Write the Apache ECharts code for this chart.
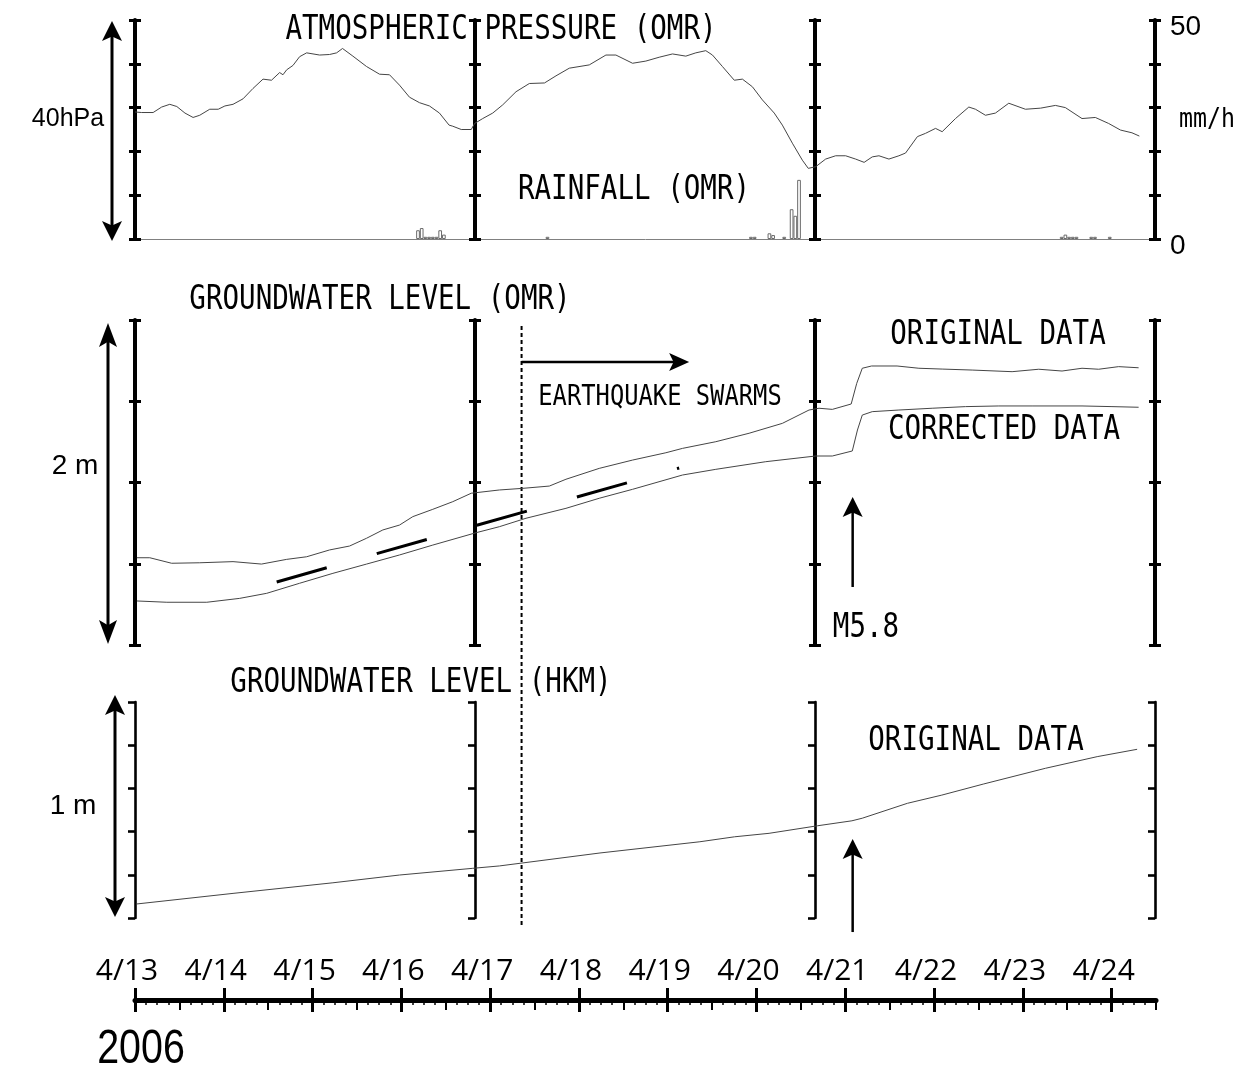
<!DOCTYPE html>
<html>
<head>
<meta charset="utf-8">
<script src="https://cdn.jsdelivr.net/npm/echarts@6/dist/echarts.min.js"></script>
<style>
  html, body { margin: 0; padding: 0; background: #fff; }
  #chart { width: 1242px; height: 1068px; }
</style>
</head>
<body>
<div id="chart"></div>
<script>
// all times are hours since 2006-04-13 00:00
const dayLabels = ["4/13", "4/14", "4/15", "4/16", "4/17", "4/18", "4/19", "4/20", "4/21", "4/22", "4/23", "4/24"];

// atmospheric pressure at OMR (hPa)
const pressureHour = [0, 1.8, 4.9, 7.2, 9.4, 11.3, 13.5, 15.7, 17.5, 20.2, 22.5, 24.3, 26.5, 29.2, 31.9, 34.6, 36.9, 39.1, 40.0, 41.0,
  42.7, 44.5, 46.4, 49.9, 52.6, 54.5, 56.1, 58.9, 62.6, 66.1, 68.8, 71.5, 74.2, 76.9, 79.6, 82.3, 84.9, 85.9, 88.2, 90.9,
  91.8, 94.0, 96.7, 99.4, 103.0, 106.6, 110.7, 113.8, 117.4, 122.8, 127.3, 130.0, 134.5, 138.1, 141.7, 145.3, 148.9, 151.6, 154.3, 156.1,
  158.8, 162.0, 164.2, 166.9, 169.6, 172.8, 175.0, 177.7, 180.4, 182.0, 184.0, 186.7, 189.4, 192.1, 194.8, 197.1, 199.3, 201.1, 203.8, 206.5,
  208.3, 211.5, 213.7, 216.4, 218.2, 221.8, 225.4, 227.2, 229.9, 232.6, 236.2, 240.7, 244.8, 248.8, 251.5, 256.0, 259.6, 263.2, 266.4, 269.5, 271.5];
const pressureHpa = [1015.2, 1015.1, 1015.1, 1016.1, 1016.6, 1016.2, 1015.0, 1014.2, 1014.6, 1015.7, 1015.7, 1016.3, 1016.6, 1017.6, 1019.5, 1021.2, 1021.0, 1022.4, 1022.0, 1022.9,
  1023.7, 1025.3, 1026.0, 1025.6, 1025.7, 1026.0, 1026.8, 1025.4, 1023.5, 1022.1, 1022.0, 1020.1, 1017.9, 1016.9, 1016.3, 1015.0, 1012.8, 1012.6, 1012.0, 1012.0,
  1013.1, 1014.0, 1015.0, 1016.5, 1018.9, 1020.4, 1020.5, 1021.8, 1023.2, 1023.8, 1025.6, 1025.6, 1024.1, 1024.5, 1025.2, 1025.8, 1025.4, 1026.0, 1026.4, 1025.6,
  1023.5, 1021.0, 1021.2, 1019.8, 1017.4, 1015.0, 1012.8, 1009.5, 1006.4, 1004.9, 1005.2, 1006.6, 1007.2, 1007.2, 1006.6, 1006.0, 1007.0, 1007.2, 1006.6, 1007.2,
  1007.7, 1010.7, 1011.3, 1012.2, 1011.6, 1014.0, 1016.1, 1015.7, 1014.6, 1015.0, 1016.8, 1015.7, 1015.9, 1016.4, 1016.0, 1014.0, 1014.2, 1013.1, 1011.9, 1011.4, 1010.8];

// hourly rainfall at OMR (mm/h), hour = start of the bin
const rainHour = [76, 77, 78, 79, 80, 81, 82, 83, 111, 166, 167, 171, 172, 175, 177, 178, 179, 250, 251, 252, 253, 254, 258, 259, 263];
const rainMm = [2.0, 2.5, 0.5, 0.5, 0.5, 0.5, 2.0, 1.0, 0.5, 0.5, 0.5, 1.3, 0.9, 0.5, 6.8, 5.3, 13.5, 0.5, 1.0, 0.5, 0.5, 0.5, 0.5, 0.5, 0.5];

// groundwater level at OMR (m, relative)
const omrHour = [0.5, 4.0, 9.9, 17.5, 26.5, 34.2, 41.0, 46.4, 52.6, 58.0, 62.6, 67.0, 71.5, 75.1, 80.5, 85.9, 90.9, 98.5, 104.8, 112.0,
  116.5, 125.5, 134.5, 143.5, 148.0, 157.0, 166.0, 175.0, 182.2, 184.9, 188.5, 193.6, 195.1, 196.6, 199.1, 206.0, 211.9, 218.2, 226.3, 237.1,
  244.3, 250.6, 256.0, 260.5, 265.9, 271.3];
const omrOriginal = [0.537, 0.537, 0.503, 0.506, 0.513, 0.498, 0.527, 0.543, 0.585, 0.609, 0.657, 0.708, 0.738, 0.790, 0.835, 0.882, 0.934, 0.954, 0.964, 0.978,
  1.020, 1.087, 1.138, 1.183, 1.210, 1.251, 1.303, 1.364, 1.446, 1.457, 1.450, 1.483, 1.610, 1.703, 1.717, 1.717, 1.703, 1.698, 1.692, 1.682,
  1.697, 1.686, 1.703, 1.697, 1.713, 1.706];
const omrCorrHour = [0.5, 8.6, 19.4, 28.3, 35.6, 44.5, 53.5, 62.6, 71.5, 80.5, 92.2, 98.5, 105.7, 116.5, 125.5, 134.5, 148.0, 157.0, 170.5, 184.0,
  188.5, 193.9, 195.3, 196.6, 199.3, 206.5, 215.5, 224.5, 233.5, 242.5, 256.0, 264.1, 271.3];
const omrCorrected = [0.271, 0.263, 0.263, 0.287, 0.318, 0.380, 0.441, 0.498, 0.554, 0.615, 0.691, 0.728, 0.780, 0.841, 0.903, 0.958, 1.046, 1.081, 1.128, 1.163,
  1.163, 1.194, 1.323, 1.415, 1.436, 1.446, 1.457, 1.467, 1.471, 1.471, 1.471, 1.467, 1.463];
// dashed trend between the two OMR curves
const trendHour = [38.3, 147.1];
const trendLevel = [0.388, 1.089];

// groundwater level at HKM (m, relative)
const hkmHour = [0.5, 26.5, 53.5, 71.5, 91.3, 98.5, 125.7, 152.7, 162.1, 171.4, 184.5, 193.8, 196.6, 208.8, 218.1, 229.3, 246.1, 260.1, 270.9];
const hkmLevel = [0.065, 0.114, 0.163, 0.199, 0.230, 0.241, 0.301, 0.353, 0.376, 0.392, 0.427, 0.450, 0.462, 0.531, 0.569, 0.620, 0.693, 0.747, 0.781];

// events
const swarmStartHour = 104.5;   // 4/17 ~08:30
const quakeHour = 194.0;        // M5.8, 4/21 ~02:50

const zip = (xs, ys) => xs.map((x, i) => [x, ys[i]]);

const X0 = 135, PLOT_W = 1021, HOURS = 276;
const panels = [
  { top: 20, height: 219, min: 992, max: 1032, interval: 8, lineWidth: 4, tickWidth: 3, tickLen: 6, both: true },
  { top: 320, height: 325, min: 0, max: 2, interval: 0.5, lineWidth: 4, tickWidth: 3, tickLen: 6, both: true },
  { top: 702, height: 216, min: 0, max: 1, interval: 0.2, lineWidth: 2.6, tickWidth: 2.6, tickLen: 7, both: false },
];
const frameOffsets = [0, -340, -680, -1020];

const grids = panels.map(p => ({ left: X0, width: PLOT_W, top: p.top, height: p.height, containLabel: false, outerBoundsMode: "none" }));
grids.push({ left: X0, width: PLOT_W, top: 980, height: 20, containLabel: false, outerBoundsMode: "none" });

const xAxes = panels.map((p, gi) => ({
  type: "value", gridIndex: gi, min: 0, max: HOURS, show: gi === 0,
  axisLine: { show: gi === 0, onZero: false, lineStyle: { color: "#808080", width: 1 } },
  axisTick: { show: false }, axisLabel: { show: false }, splitLine: { show: false },
}));
const dayTicks = dayLabels.map((_, i) => i * 24);
// date axis: line + major ticks below, labels above
xAxes.push({
  type: "value", gridIndex: 3, min: 0, max: HOURS, interval: 24, position: "bottom",
  axisLine: { show: true, onZero: false, lineStyle: { color: "#000", width: 5 } },
  axisTick: { show: true, customValues: dayTicks, length: 12, lineStyle: { color: "#000", width: 3 } },
  axisLabel: {
    show: true, inside: true, customValues: dayTicks, margin: 29, verticalAlign: "middle",
    padding: [0, 16, 0, 0], fontFamily: "Open Sans", fontSize: 30, color: "#000",
    formatter: v => dayLabels[Math.round(v / 24)] || "",
  },
  splitLine: { show: false },
});
// major ticks above the line
xAxes.push({
  type: "value", gridIndex: 3, min: 0, max: HOURS, interval: 24, position: "bottom",
  axisLine: { show: false, onZero: false },
  axisTick: { show: true, inside: true, customValues: dayTicks, length: 12, lineStyle: { color: "#000", width: 3 } },
  axisLabel: { show: false }, splitLine: { show: false },
});
// noon ticks and 3-hour minor ticks
xAxes.push({
  type: "value", gridIndex: 3, min: 0, max: HOURS, interval: 12, position: "bottom",
  axisLine: { show: false, onZero: false },
  axisTick: { show: true, length: 10, lineStyle: { color: "#000", width: 2 } },
  minorTick: { show: true, splitNumber: 4, length: 5, lineStyle: { color: "#000", width: 1.5 } },
  axisLabel: { show: false }, splitLine: { show: false },
});

const yAxes = [];
const dataAxis = [];
panels.forEach((p, gi) => {
  frameOffsets.forEach((off, k) => {
    (p.both ? [false, true] : [false]).forEach(inside => {
      if (k === 0 && !inside) dataAxis[gi] = yAxes.length;
      yAxes.push({
        type: "value", gridIndex: gi, position: "left", offset: off,
        min: p.min, max: p.max, interval: p.interval,
        axisLine: { show: !inside, onZero: false, lineStyle: { color: "#000", width: p.lineWidth } },
        axisTick: { show: true, inside, length: p.tickLen, lineStyle: { color: "#000", width: p.tickWidth } },
        axisLabel: { show: false }, splitLine: { show: false },
      });
    });
  });
});
const rainAxis = yAxes.length;
yAxes.push({
  type: "value", gridIndex: 0, position: "right", offset: -1, min: 0, max: 50, interval: 10,
  axisLine: { show: false, onZero: false }, axisTick: { show: false }, splitLine: { show: false },
  axisLabel: {
    show: true, margin: 15, lineHeight: 15, fontFamily: "Liberation Sans", fontSize: 28, color: "#000",
    // empty first line pushes the number a little below its tick, as in the figure
    formatter: v => (v === 0 || v === 50 ? "\n" + v : ""),
  },
});
yAxes.push({ type: "value", gridIndex: 3, show: false, min: 0, max: 1 });

const thin = { color: "#454545", width: 1 };
const chart = echarts.init(document.getElementById("chart"));
chart.setOption({
  animation: false,
  backgroundColor: "#fff",
  grid: grids,
  xAxis: xAxes,
  yAxis: yAxes,
  series: [
    { name: "pressure", type: "line", xAxisIndex: 0, yAxisIndex: dataAxis[0], data: zip(pressureHour, pressureHpa),
      showSymbol: false, lineStyle: thin, silent: true },
    { name: "rainfall", type: "bar", xAxisIndex: 0, yAxisIndex: rainAxis, data: rainHour.map((h, i) => [h + 0.5, rainMm[i]]),
      barWidth: 3.7, itemStyle: { color: "#fff", borderColor: "#6a6a6a", borderWidth: 1 }, silent: true },
    { name: "omr original", type: "line", xAxisIndex: 1, yAxisIndex: dataAxis[1], data: zip(omrHour, omrOriginal),
      showSymbol: false, lineStyle: thin, silent: true },
    { name: "omr corrected", type: "line", xAxisIndex: 1, yAxisIndex: dataAxis[1], data: zip(omrCorrHour, omrCorrected),
      showSymbol: false, lineStyle: thin, silent: true },
    { name: "trend", type: "line", xAxisIndex: 1, yAxisIndex: dataAxis[1], data: zip(trendHour, trendLevel),
      showSymbol: false, lineStyle: { color: "#000", width: 3, type: [52, 52] }, silent: true },
    { name: "hkm", type: "line", xAxisIndex: 2, yAxisIndex: dataAxis[2], data: zip(hkmHour, hkmLevel),
      showSymbol: false, lineStyle: thin, silent: true },
  ],
});

// ---- annotations ----
const toPx = (seriesIndex, h, v) => chart.convertToPixel({ seriesIndex }, [h, v]);

function head(tx, ty, dx, dy, len, wid) {
  const bx = tx - dx * len, by = ty - dy * len;
  const nx = -dy, ny = dx;
  const notch = len * 0.22;
  return {
    type: "polygon", silent: true,
    shape: { points: [[tx, ty], [bx + nx * wid / 2, by + ny * wid / 2], [tx - dx * (len - notch), ty - dy * (len - notch)], [bx - nx * wid / 2, by - ny * wid / 2]] },
    style: { fill: "#000" },
  };
}
function arrow(x1, y1, x2, y2, len, wid, lineWidth, both) {
  const L = Math.hypot(x2 - x1, y2 - y1), dx = (x2 - x1) / L, dy = (y2 - y1) / L;
  const cut = len * 0.7;
  const out = [{
    type: "line", silent: true,
    shape: { x1: both ? x1 + dx * cut : x1, y1: both ? y1 + dy * cut : y1, x2: x2 - dx * cut, y2: y2 - dy * cut },
    style: { stroke: "#000", lineWidth },
  }, head(x2, y2, dx, dy, len, wid)];
  if (both) out.push(head(x1, y1, -dx, -dy, len, wid));
  return out;
}
function label(text, x, y, fontFamily, fontSize, scaleX) {
  return {
    type: "text", x, y, scaleX: scaleX || 1, silent: true,
    style: { text, fontFamily, fontSize, fill: "#000", align: "center", verticalAlign: "middle" },
  };
}
const MONO = "DejaVu Sans Mono";
const SANS = "Liberation Sans";

const swarmTop = toPx(2, swarmStartHour, 1.742);
const swarmTip = toPx(2, 149.8, 1.742);
const quakeFrom = toPx(2, quakeHour, 0.357);
const quakeTo = toPx(2, quakeHour, 0.911);
const hkmFrom = toPx(5, quakeHour, -0.065);
const hkmTo = toPx(5, quakeHour, 0.366);

const graphics = [
  ...arrow(112, 21, 112, 241, 20, 20, 3, true),
  ...arrow(108, 323, 108, 644, 24, 18, 3, true),
  ...arrow(115, 695, 115, 917, 20, 20, 3, true),
  {
    type: "line", silent: true,
    shape: { x1: swarmTop[0], y1: 326, x2: swarmTop[0], y2: 928 },
    style: { stroke: "#000", lineWidth: 2, lineDash: [4, 3] },
  },
  ...arrow(swarmTop[0], swarmTop[1], swarmTip[0], swarmTip[1], 20, 18, 2.5, false),
  ...arrow(quakeFrom[0], quakeFrom[1], quakeTo[0], quakeTo[1], 20, 20, 2.5, false),
  ...arrow(hkmFrom[0], hkmFrom[1], hkmTo[0], hkmTo[1], 20, 20, 2.5, false),
  label("ATMOSPHERIC PRESSURE (OMR)", 501, 30, MONO, 34, 0.81),
  label("RAINFALL (OMR)", 634, 190, MONO, 34, 0.81),
  label("GROUNDWATER LEVEL (OMR)", 380, 300, MONO, 34, 0.81),
  label("ORIGINAL DATA", 998, 335, MONO, 34, 0.81),
  label("EARTHQUAKE SWARMS", 660, 397, MONO, 29, 0.82),
  label("CORRECTED DATA", 1004, 430, MONO, 34, 0.81),
  label("M5.8", 866, 628, MONO, 34, 0.81),
  label("GROUNDWATER LEVEL (HKM)", 421, 683, MONO, 34, 0.81),
  label("ORIGINAL DATA", 976, 741, MONO, 34, 0.81),
  label("mm/h", 1207, 120, MONO, 27, 0.86),
  label("40hPa", 68, 119, SANS, 25, 1),
  label("2 m", 75, 466, SANS, 28, 1),
  label("1 m", 73, 806, SANS, 28, 1),
  label("2006", 141, 1050, SANS, 48, 0.82),
];
chart.setOption({ graphic: graphics });
</script>
</body>
</html>
